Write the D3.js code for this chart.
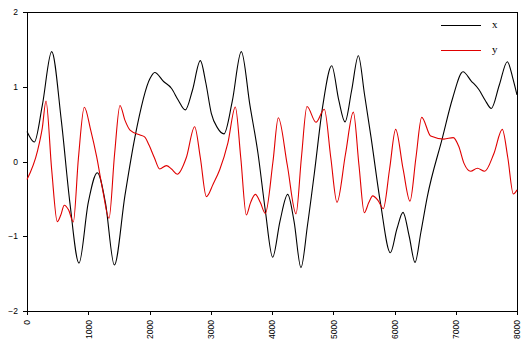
<!DOCTYPE html>
<html>
<head>
<meta charset="utf-8">
<script src="https://cdn.jsdelivr.net/npm/d3@7"></script>
<style>
body { margin: 0; background: #fff; }
</style>
</head>
<body>
<script>
// series: [t, value]
var xSeries = [
    [0,0.40],[119,0.26],[250,0.75],[403,1.47],[560,0.55],[700,-0.55],[849,-1.36],
    [1000,-0.55],[1148,-0.15],[1280,-0.55],[1426,-1.385],[1600,-0.45],[1763,0.33],
    [2008,1.11],[2085,1.19],[2230,1.07],[2357,0.98],[2470,0.82],[2585,0.69],[2700,0.95],
    [2830,1.35],[2920,1.05],[3009,0.645],[3110,0.45],[3216,0.37],[3350,0.80],[3499,1.47],
    [3640,0.75],[3771,0.11],[3890,-0.65],[4011,-1.28],[4130,-0.80],[4256,-0.44],
    [4360,-0.80],[4473,-1.42],[4580,-0.85],[4691,-0.16],[4830,0.75],[4975,1.28],
    [5090,0.82],[5192,0.53],[5300,0.95],[5410,1.415],[5510,0.90],[5616,0.33],
    [5770,-0.55],[5932,-1.22],[6040,-0.90],[6139,-0.68],[6240,-1.00],[6335,-1.35],
    [6430,-0.95],[6536,-0.47],[6780,0.31],[6950,0.85],[7118,1.20],[7250,1.08],
    [7380,0.96],[7480,0.82],[7581,0.71],[7710,1.02],[7842,1.335],[7930,1.12],[8000,0.89]
];
var ySeries = [
    [0,-0.24],[174,0.15],[250,0.45],[310,0.81],[403,-0.11],[495,-0.805],[550,-0.72],
    [609,-0.585],[680,-0.65],[756,-0.81],[840,0.05],[936,0.725],[1040,0.42],
    [1137,0.065],[1240,-0.40],[1339,-0.76],[1430,0.10],[1518,0.75],[1600,0.55],
    [1682,0.42],[1845,0.355],[1920,0.33],[1992,0.22],[2080,0.05],[2166,-0.10],
    [2275,-0.055],[2360,-0.10],[2454,-0.17],[2600,0.05],[2737,0.465],[2830,0.05],
    [2928,-0.47],[3040,-0.30],[3146,-0.11],[3280,0.25],[3401,0.73],[3490,0.05],
    [3581,-0.715],[3650,-0.55],[3728,-0.44],[3810,-0.55],[3891,-0.695],[4016,0.00],
    [4103,0.585],[4250,-0.05],[4392,-0.70],[4480,0.05],[4571,0.735],[4718,0.525],
    [4854,0.70],[4960,0.05],[5061,-0.545],[5200,0.10],[5328,0.66],[5420,-0.05],
    [5507,-0.685],[5580,-0.55],[5644,-0.46],[5730,-0.52],[5817,-0.63],[5920,-0.10],
    [6019,0.43],[6140,-0.10],[6253,-0.53],[6350,0.05],[6444,0.59],[6591,0.34],
    [6808,0.30],[6960,0.32],[7050,0.20],[7135,-0.025],[7244,-0.13],[7352,-0.09],
    [7472,-0.13],[7620,0.10],[7760,0.43],[7850,0.05],[7940,-0.435],[8000,-0.38]
];
var seriesNames = ["x","y"];
var seriesColors = ["#000000","#e00000"];
var xTicks = [0,1000,2000,3000,4000,5000,6000,7000,8000];
var yTicks = [-2,-1,0,1,2];

var width = 522;
var height = 350;
var marge = {top:12,bottom:39,left:27,right:5};

var svg = d3.select("body")
    .append("svg")
    .attr("width",width)
    .attr("height",height);

var g = svg.append("g")
    .attr("transform","translate("+marge.left+","+marge.top+")");

var w = width - marge.left - marge.right;
var h = height - marge.top - marge.bottom;

var xScale = d3.scaleLinear().domain([0,8000]).range([0,w]);
var yScale = d3.scaleLinear().domain([-2,2]).range([h,0]);

var xAxis = g.append("g")
    .attr("transform","translate(0,"+h+")")
    .call(d3.axisBottom(xScale).tickValues(xTicks).tickSize(4).tickSizeOuter(0).tickFormat(d3.format("d")));
xAxis.selectAll("text")
    .attr("transform","rotate(-90)")
    .attr("text-anchor","end")
    .attr("x",-9)
    .attr("y",0)
    .attr("dy","0.35em");

var yAxis = g.append("g")
    .call(d3.axisLeft(yScale).tickValues(yTicks).tickSize(4).tickSizeOuter(0).tickFormat(d3.format("d")));
yAxis.selectAll("text").attr("x",-9);

svg.selectAll(".tick text")
    .style("font-family","'Liberation Sans', Arial, sans-serif")
    .style("font-size","8.5px")
    .attr("fill","#000");
svg.selectAll(".domain, .tick line")
    .attr("stroke","#000")
    .attr("shape-rendering","crispEdges");

// top and right frame
g.append("line").attr("x1",0).attr("x2",w).attr("y1",0).attr("y2",0)
    .attr("stroke","#000").attr("shape-rendering","crispEdges");
g.append("line").attr("x1",w).attr("x2",w).attr("y1",0).attr("y2",h)
    .attr("stroke","#000").attr("shape-rendering","crispEdges");

var line = d3.line()
    .x(function(d){ return xScale(d[0]); })
    .y(function(d){ return yScale(d[1]); })
    .curve(d3.curveMonotoneX);

[xSeries,ySeries].forEach(function(s,i){
    g.append("path")
        .datum(s)
        .attr("fill","none")
        .attr("stroke",seriesColors[i])
        .attr("stroke-width",1.1)
        .attr("d",line);
});

// legend
var legend = g.selectAll(".legend")
    .data(seriesNames)
    .enter()
    .append("g")
    .attr("transform",function(d,i){ return "translate(414,"+(13+i*25)+")"; });
legend.append("line")
    .attr("x1",0).attr("x2",40)
    .attr("stroke",function(d,i){ return seriesColors[i]; })
    .attr("shape-rendering","crispEdges");
legend.append("text")
    .attr("x",51)
    .attr("dy","0.3em")
    .style("font-family","'Liberation Serif', 'Times New Roman', serif")
    .style("font-size","11px")
    .text(function(d){ return d; });
</script>
</body>
</html>
